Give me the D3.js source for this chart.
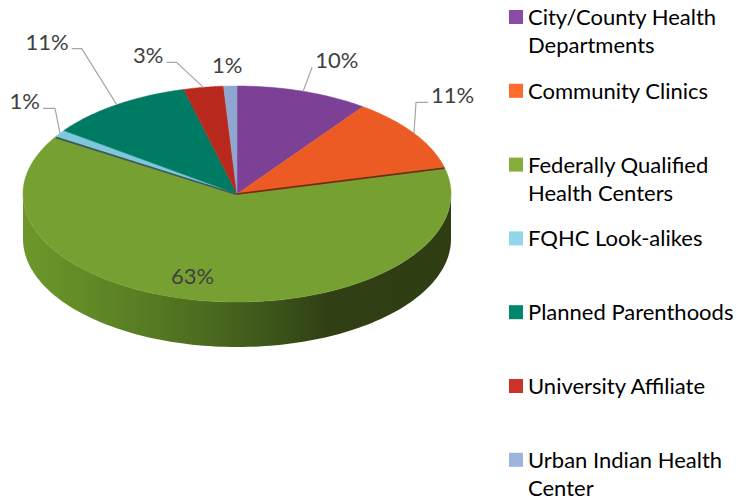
<!DOCTYPE html>
<html>
<head>
<meta charset="utf-8">
<script src="https://cdn.jsdelivr.net/npm/d3@7"></script>
<style>
  html, body { margin: 0; padding: 0; background: #fff; }
  svg { display: block; }
</style>
</head>
<body>
<svg id="chart" width="738" height="503"></svg>
<script>
// ---- data ----
const categories = [
  "City/County Health Departments",
  "Community Clinics",
  "Federally Qualified Health Centers",
  "FQHC Look-alikes",
  "Planned Parenthoods",
  "University Affiliate",
  "Urban Indian Health Center"
];
const legendLines = [
  ["City/County Health", "Departments"],
  ["Community Clinics"],
  ["Federally Qualified", "Health Centers"],
  ["FQHC Look-alikes"],
  ["Planned Parenthoods"],
  ["University Affiliate"],
  ["Urban Indian Health", "Center"]
];
const values = [10, 11, 63, 1, 11, 3, 1];
const labels = ["10%", "11%", "63%", "1%", "11%", "3%", "1%"];
const topColors = ["#7c4096", "#ec5b24", "#77a032", "#7fc7da", "#007b63", "#b9281d", "#8ea6d0"];
const legendColors = ["#8a4aa6", "#ff6b2c", "#86ae3a", "#92d6ea", "#00876c", "#cc3428", "#9db4dc"];

// ---- layout ----
const W = 738, H = 503;
const cx = 237, cy = 194, rx = 214, ry = 108, depth = 45;
const font = "Lato, 'Open Sans', sans-serif";
const fontSize = 22;
// label layout: [dx, dy, horizontal leader length (signed), kind] relative to slice mid-edge point
const labelLayout = [
  {dx: 9, dy: -24, h: 0, kind: "leader"},
  {dx: 2, dy: -31, h: 12, kind: "leader"},
  {f: 0.76, dx: -19, dy: 9, kind: "inside"},
  {dx: -5, dy: -25, h: -12, kind: "leader"},
  {dx: -35, dy: -56, h: -10, kind: "leader"},
  {dx: -27, dy: -25, h: -10, kind: "leader"},
  {dx: -3, dy: -13, h: 0, kind: "plain"}
];

const svg = d3.select("#chart");
const defs = svg.append("defs");

const pie = d3.pie().sort(null).value(d => d).startAngle(0).endAngle(2 * Math.PI);
const arcs = pie(values);

const pt = (a, f = 1) => [cx + rx * f * Math.sin(a), cy - ry * f * Math.cos(a)];

// side gradient
const grad = defs.append("linearGradient").attr("id", "sideGrad")
  .attr("gradientUnits", "userSpaceOnUse")
  .attr("x1", cx - rx).attr("y1", 0).attr("x2", cx + rx).attr("y2", 0);
[[0, "#6d972a"], [0.2, "#5e8525"], [0.42, "#4c6c1f"], [0.6, "#3a5219"], [0.72, "#303f14"], [1, "#2e3d12"]]
  .forEach(([o, c]) => grad.append("stop").attr("offset", o).attr("stop-color", c));

// side (front half) — it belongs to the slice covering the front
const sideArc = arcs.find(a => a.startAngle <= Math.PI / 2 && a.endAngle >= 3 * Math.PI / 2);
const s0 = Math.max(sideArc.startAngle, Math.PI / 2), s1 = Math.min(sideArc.endAngle, 3 * Math.PI / 2);
{
  const p0 = pt(s0), p1 = pt(s1);
  const path = d3.path();
  path.moveTo(p0[0], p0[1]);
  const N = 120;
  for (let i = 1; i <= N; i++) {
    const a = s0 + (s1 - s0) * i / N;
    const p = pt(a); path.lineTo(p[0], p[1]);
  }
  path.lineTo(p1[0], p1[1] + depth);
  for (let i = N - 1; i >= 0; i--) {
    const a = s0 + (s1 - s0) * i / N;
    const p = pt(a); path.lineTo(p[0], p[1] + depth);
  }
  path.closePath();
  svg.append("path").attr("d", path.toString()).attr("fill", "url(#sideGrad)");
}

// top slices
function slicePath(a0, a1) {
  const p = d3.path();
  p.moveTo(cx, cy);
  const n = Math.max(2, Math.ceil((a1 - a0) / 0.01));
  for (let i = 0; i <= n; i++) {
    const q = pt(a0 + (a1 - a0) * i / n);
    p.lineTo(q[0], q[1]);
  }
  p.closePath();
  return p.toString();
}
svg.append("g").selectAll("path").data(arcs).join("path")
  .attr("d", d => slicePath(d.startAngle, d.endAngle))
  .attr("fill", (d, i) => topColors[i])
  .attr("stroke", (d, i) => topColors[i])
  .attr("stroke-width", 0.5);

// thin wall edges around the large slice
{
  const g = arcs[2];
  const e0 = pt(g.startAngle), e1 = pt(g.endAngle);
  svg.append("line").attr("x1", cx).attr("y1", cy).attr("x2", e0[0]).attr("y2", e0[1] + 1)
    .attr("stroke", "#7a2a0e").attr("stroke-width", 1.6);
  svg.append("line").attr("x1", cx).attr("y1", cy + 0.5).attr("x2", e1[0]).attr("y2", e1[1] + 1.5)
    .attr("stroke", "#3c5a62").attr("stroke-width", 1.6);
}

// labels
const lg = svg.append("g").attr("font-family", font).attr("font-size", fontSize).attr("fill", "#404040");
arcs.forEach((d, i) => {
  const L = labelLayout[i];
  const mid = (d.startAngle + d.endAngle) / 2;
  if (L.kind === "inside") {
    const p = pt(mid, L.f);
    lg.append("text").attr("x", p[0] + L.dx).attr("y", p[1] + L.dy)
      .attr("text-anchor", "middle").text(labels[i]);
    return;
  }
  const e = pt(mid);
  const el = [e[0] + L.dx, e[1] + L.dy];
  if (L.kind === "plain") {
    lg.append("text").attr("x", el[0]).attr("y", el[1])
      .attr("text-anchor", "middle").text(labels[i]);
    return;
  }
  const end = [el[0] + L.h, el[1]];
  svg.append("polyline")
    .attr("points", [e, el, end].map(p => p.join(",")).join(" "))
    .attr("fill", "none").attr("stroke", "#a6a6a6").attr("stroke-width", 1.2);
  const right = L.h > 0 || (L.h === 0 && L.dx > 0);
  lg.append("text")
    .attr("x", end[0] + (right ? 3 : -3))
    .attr("y", end[1] + 1)
    .attr("text-anchor", right ? "start" : "end")
    .text(labels[i]);
});

// legend
const legY0 = 25, legStep = 73.8, lineH = 28;
const leg = svg.append("g").attr("font-family", font).attr("font-size", fontSize).attr("fill", "#000");
categories.forEach((c, i) => {
  const y = legY0 + i * legStep;
  leg.append("rect").attr("x", 509).attr("y", y - 15).attr("width", 14).attr("height", 14)
    .attr("fill", legendColors[i]);
  legendLines[i].forEach((t, j) => {
    leg.append("text").attr("x", 528).attr("y", y + j * lineH).text(t);
  });
});
</script>
</body>
</html>
